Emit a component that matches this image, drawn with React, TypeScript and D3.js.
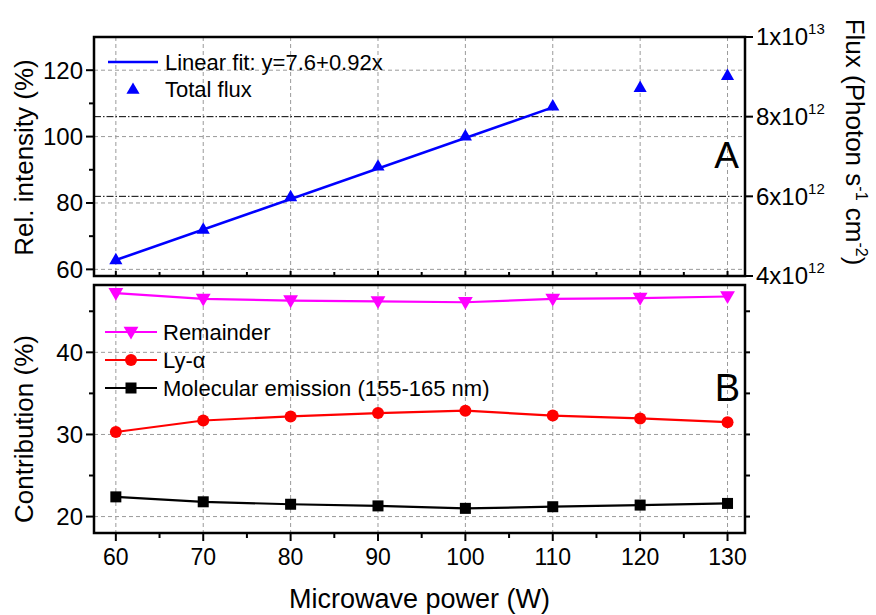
import * as d3 from "d3"
import { useRef, useEffect } from "react"

// microwave power (W)
const power = [60, 70, 80, 90, 100, 110, 120, 130]
// panel A: relative intensity of the total flux (%)
const totalFlux = [63, 72.2, 82, 91.2, 100.3, 109.3, 114.9, 118.5]
// linear fit as given in the legend, drawn from 60 to 110 W
const fitPower = [60, 110]
const fitIntercept = 7.6
const fitSlope = 0.92
// panel B: contribution (%)
const remainder = [47.2, 46.5, 46.3, 46.2, 46.1, 46.5, 46.6, 46.8]
const lyAlpha = [30.3, 31.7, 32.2, 32.6, 32.9, 32.3, 31.95, 31.5]
const molecular = [22.4, 21.8, 21.5, 21.3, 21.0, 21.2, 21.4, 21.6]

const relTicks = [60, 80, 100, 120]
const relMinor = [70, 90, 110]
const fluxTicks = [4e12, 6e12, 8e12, 1e13]
const contribTicks = [20, 30, 40]
const contribMinor = [25, 35, 45]
const powerMinor = [65, 75, 85, 95, 105, 115, 125]

export default function App() {
  const ref = useRef<SVGSVGElement>(null)

  useEffect(() => {
    const width = 876
    const height = 615
    const left = 94
    const right = 745
    const topA = 37
    const bottomA = 276
    const topB = 285
    const bottomB = 533
    const font = "Liberation Sans, Arial, sans-serif"
    const gridColor = "#9a9a9a"

    const x = d3.scaleLinear().domain([57.5, 132]).range([left, right])
    const yA = d3.scaleLinear().domain([58, 130]).range([bottomA, topA])
    const yFlux = d3.scaleLinear().domain([4e12, 1e13]).range([bottomA, topA])
    const yB = d3.scaleLinear().domain([18, 48.2]).range([bottomB, topB])

    const svg = d3.select(ref.current)
    svg.selectAll("*").remove()
    svg.attr("width", width).attr("height", height)
      .style("font-family", font)

    svg.append("rect").attr("width", width).attr("height", height).attr("fill", "white")

    // ---- grids ----
    const grid = svg.append("g").attr("stroke", gridColor).attr("stroke-width", 1)
      .attr("stroke-dasharray", "4,3").attr("fill", "none")
    power.forEach(p => {
      grid.append("line").attr("x1", x(p)).attr("x2", x(p)).attr("y1", topA).attr("y2", bottomA)
      grid.append("line").attr("x1", x(p)).attr("x2", x(p)).attr("y1", topB).attr("y2", bottomB)
    })
    relTicks.forEach(t => {
      grid.append("line").attr("x1", left).attr("x2", right).attr("y1", yA(t)).attr("y2", yA(t))
    })
    contribTicks.forEach(t => {
      grid.append("line").attr("x1", left).attr("x2", right).attr("y1", yB(t)).attr("y2", yB(t))
    })
    // dash-dot lines of the flux axis
    svg.append("g").selectAll("line")
      .data(fluxTicks.filter(t => t > 4e12 && t < 1e13))
      .join("line")
      .attr("x1", left).attr("x2", right)
      .attr("y1", d => yFlux(d)).attr("y2", d => yFlux(d))
      .attr("stroke", "black").attr("stroke-width", 1)
      .attr("stroke-dasharray", "7,2,1.5,2")

    // ---- panel A ----
    const fitLine = d3.line<number>().x(d => x(d)).y(d => yA(fitIntercept + fitSlope * d))
    svg.append("path").attr("d", fitLine(fitPower))
      .attr("fill", "none").attr("stroke", "#0000ff").attr("stroke-width", 2.6)

    const tri = d3.symbol().type(d3.symbolTriangle).size(75)
    svg.append("g").selectAll("path")
      .data(power.map((p, i) => [p, totalFlux[i]]))
      .join("path")
      .attr("d", tri())
      .attr("transform", d => `translate(${x(d[0])},${yA(d[1]) + 1})`)
      .attr("fill", "#0000ff")

    // ---- panel B ----
    const series = [
      { values: remainder, color: "#ff00ff", marker: "down" },
      { values: lyAlpha, color: "#ff0000", marker: "circle" },
      { values: molecular, color: "#000000", marker: "square" },
    ]
    const lineB = d3.line<number>().x((d, i) => x(power[i])).y(d => yB(d))
    const drawMarker = (g: any, kind: string, cx: number, cy: number, color: string) => {
      if (kind === "down") {
        g.append("path").attr("d", d3.symbol().type(d3.symbolTriangle).size(95)())
          .attr("transform", `translate(${cx},${cy - 1}) rotate(180)`).attr("fill", color)
      } else if (kind === "circle") {
        g.append("circle").attr("cx", cx).attr("cy", cy).attr("r", 6).attr("fill", color)
      } else {
        g.append("rect").attr("x", cx - 5.5).attr("y", cy - 5.5).attr("width", 11).attr("height", 11)
          .attr("fill", color)
      }
    }
    series.forEach(s => {
      svg.append("path").attr("d", lineB(s.values))
        .attr("fill", "none").attr("stroke", s.color).attr("stroke-width", 2.2)
      const g = svg.append("g")
      s.values.forEach((v, i) => drawMarker(g, s.marker, x(power[i]), yB(v), s.color))
    })

    // ---- frames ----
    ;[[topA, bottomA], [topB, bottomB]].forEach(([t, b]) => {
      svg.append("rect").attr("x", left).attr("y", t).attr("width", right - left).attr("height", b - t)
        .attr("fill", "none").attr("stroke", "black").attr("stroke-width", 2.5)
    })

    // ---- ticks ----
    const ticks = svg.append("g").attr("stroke", "black").attr("stroke-width", 2)
    const hTick = (xx: number, yy: number, len: number) =>
      ticks.append("line").attr("x1", xx).attr("x2", xx + len).attr("y1", yy).attr("y2", yy)
    const vTick = (xx: number, yy: number, len: number) =>
      ticks.append("line").attr("x1", xx).attr("x2", xx).attr("y1", yy).attr("y2", yy + len)

    relTicks.forEach(t => hTick(left, yA(t), -8))
    relMinor.forEach(t => hTick(left, yA(t), -5))
    fluxTicks.forEach(t => hTick(right, yFlux(t), 8))
    contribTicks.forEach(t => { hTick(left, yB(t), -8); hTick(right, yB(t), 5) })
    contribMinor.forEach(t => { hTick(left, yB(t), -5); hTick(right, yB(t), 5) })
    power.forEach(p => { vTick(x(p), bottomB, 8); vTick(x(p), bottomA, -5) })
    powerMinor.forEach(p => { vTick(x(p), bottomB, 5); vTick(x(p), bottomA, -4) })

    // ---- tick labels ----
    svg.append("g").selectAll("text").data(relTicks).join("text")
      .attr("x", left - 11).attr("y", d => yA(d)).attr("dy", "0.35em")
      .attr("text-anchor", "end").attr("font-size", 24).text(d => d)
    svg.append("g").selectAll("text").data(contribTicks).join("text")
      .attr("x", left - 11).attr("y", d => yB(d)).attr("dy", "0.35em")
      .attr("text-anchor", "end").attr("font-size", 24).text(d => d)
    svg.append("g").selectAll("text").data(power).join("text")
      .attr("x", d => x(d)).attr("y", 565)
      .attr("text-anchor", "middle").attr("font-size", 23).text(d => d)

    const fluxLabels = svg.append("g").selectAll("text").data(fluxTicks).join("text")
      .attr("x", right + 11).attr("y", d => yFlux(d)).attr("dy", "0.35em")
      .attr("font-size", 24)
    fluxLabels.append("tspan").text(d => {
      const e = Math.floor(Math.log10(d))
      return `${Math.round(d / Math.pow(10, e))}x10`
    })
    fluxLabels.append("tspan").attr("dy", -11).attr("font-size", 15)
      .text(d => Math.floor(Math.log10(d)))

    // ---- axis titles ----
    svg.append("text").attr("transform", `translate(33,${(topA + bottomA) / 2 + 1}) rotate(-90)`)
      .attr("text-anchor", "middle").attr("font-size", 26).text("Rel. intensity (%)")
    svg.append("text").attr("transform", `translate(33,${(topB + bottomB) / 2 + 20}) rotate(-90)`)
      .attr("text-anchor", "middle").attr("font-size", 26).text("Contribution (%)")
    svg.append("text").attr("x", (left + right) / 2).attr("y", 608)
      .attr("text-anchor", "middle").attr("font-size", 27).text("Microwave power (W)")

    const fluxTitle = svg.append("text").attr("transform", `translate(846,142) rotate(90)`)
      .attr("text-anchor", "middle").attr("font-size", 26)
    fluxTitle.append("tspan").text("Flux (Photon s")
    fluxTitle.append("tspan").attr("dy", -10).attr("font-size", 16).text("-1")
    fluxTitle.append("tspan").attr("dy", 10).text(" cm")
    fluxTitle.append("tspan").attr("dy", -10).attr("font-size", 16).text("-2")
    fluxTitle.append("tspan").attr("dy", 10).text(")")

    // ---- panel letters ----
    svg.append("text").attr("x", 739).attr("y", 168).attr("text-anchor", "end")
      .attr("font-size", 37).text("A")
    svg.append("text").attr("x", 740).attr("y", 401).attr("text-anchor", "end")
      .attr("font-size", 38).text("B")

    // ---- legend A ----
    const legA = svg.append("g").attr("font-size", 22)
    legA.append("line").attr("x1", 108).attr("x2", 158).attr("y1", 62).attr("y2", 62)
      .attr("stroke", "#0000ff").attr("stroke-width", 2.4)
    legA.append("text").attr("x", 165).attr("y", 70).text("Linear fit: y=7.6+0.92x")
    legA.append("path").attr("d", tri()).attr("transform", "translate(133,90)").attr("fill", "#0000ff")
    legA.append("text").attr("x", 165).attr("y", 97).text("Total flux")

    // ---- legend B ----
    const legendB = [
      { label: "Remainder", s: series[0] },
      { label: "Ly-\u03b1", s: series[1] },
      { label: "Molecular emission (155-165 nm)", s: series[2] },
    ]
    const legB = svg.append("g").attr("font-size", 22)
    legendB.forEach((d, i) => {
      const yy = 332 + i * 28
      legB.append("line").attr("x1", 105).attr("x2", 157).attr("y1", yy).attr("y2", yy)
        .attr("stroke", d.s.color).attr("stroke-width", 2.2)
      drawMarker(legB, d.s.marker, 131, yy, d.s.color)
      legB.append("text").attr("x", 163).attr("y", yy + 8).text(d.label)
    })
  }, [])

  return (
    <div style={{ position: "absolute", left: 0, top: 0 }}>
      <svg ref={ref}></svg>
    </div>
  )
}
